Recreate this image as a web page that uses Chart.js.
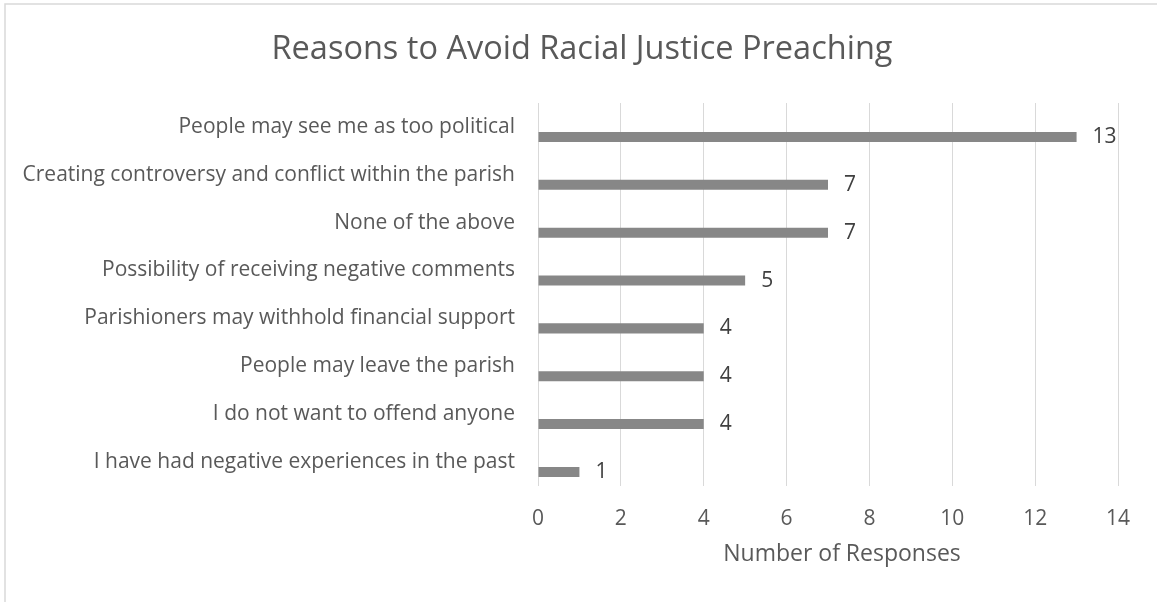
<!DOCTYPE html>
<html>
<head>
<meta charset="utf-8">
<script src="https://cdn.jsdelivr.net/npm/chart.js@4/dist/chart.umd.min.js"></script>
<style>
  html, body { margin: 0; padding: 0; background: #fff; }
  #wrap { width: 1157px; height: 602px; }
</style>
</head>
<body>
<div id="wrap"><canvas id="chart" width="1157" height="602"></canvas></div>
<script>
// chart data, top row first
const categories = [
    'People may see me as too political',
    'Creating controversy and conflict within the parish',
    'None of the above',
    'Possibility of receiving negative comments',
    'Parishioners may withhold financial support',
    'People may leave the parish',
    'I do not want to offend anyone',
    'I have had negative experiences in the past'
];
const responses = [13, 7, 7, 5, 4, 4, 4, 1];
const xTicks = [0, 2, 4, 6, 8, 10, 12, 14];

const chartTitle = 'Reasons to Avoid Racial Justice Preaching';
const xAxisTitle = 'Number of Responses';

const FONT = '"Open Sans", "Noto Sans", sans-serif';

// frame, titles and value labels
const decorPlugin = {
    id: 'decor',
    beforeDraw: function (chart) {
        const ctx = chart.ctx;
        ctx.save();
        ctx.fillStyle = '#ffffff';
        ctx.fillRect(0, 0, chart.width, chart.height);
        ctx.strokeStyle = '#d9d9d9';
        ctx.lineWidth = 1.5;
        ctx.strokeRect(5, 4, 1300, 800);
        ctx.restore();
    },
    afterDatasetsDraw: function (chart) {
        const ctx = chart.ctx;
        const meta = chart.getDatasetMeta(1);
        ctx.save();
        ctx.font = '21px ' + FONT;
        ctx.fillStyle = '#404040';
        ctx.textAlign = 'left';
        ctx.textBaseline = 'middle';
        meta.data.forEach(function (bar, i) {
            ctx.fillText(String(responses[i]), bar.x + 16, bar.y);
        });
        ctx.restore();
    },
    afterDraw: function (chart) {
        const ctx = chart.ctx;
        ctx.save();
        ctx.fillStyle = '#595959';
        ctx.textAlign = 'center';
        ctx.textBaseline = 'alphabetic';
        ctx.font = '32.5px ' + FONT;
        ctx.fillText(chartTitle, 582, 59);
        ctx.font = '23px ' + FONT;
        ctx.fillText(xAxisTitle, 842, 561);
        ctx.restore();
    }
};

const ctx = document.getElementById('chart').getContext('2d');
new Chart(ctx, {
    type: 'bar',
    data: {
        labels: categories,
        datasets: [
            {
                // empty series, keeps the bars in the lower half of each row
                label: '',
                data: responses.map(() => null),
                backgroundColor: 'rgba(0,0,0,0)'
            },
            {
                label: 'Responses',
                data: responses,
                backgroundColor: '#878787'
            }
        ]
    },
    options: {
        indexAxis: 'y',
        responsive: false,
        animation: false,
        datasets: {
            bar: { categoryPercentage: 0.84, barPercentage: 0.5 }
        },
        layout: {
            padding: { top: 103, right: 39, bottom: 49, left: 0 }
        },
        plugins: {
            legend: { display: false },
            title: { display: false },
            tooltip: { enabled: false }
        },
        scales: {
            x: {
                min: 0,
                max: 14,
                afterBuildTicks: function (scale) {
                    scale.ticks = xTicks.map(v => ({ value: v }));
                },
                grid: { color: '#d9d9d9', lineWidth: 1, drawTicks: false },
                border: { display: false },
                ticks: {
                    padding: 21,
                    color: '#595959',
                    font: { family: FONT, size: 21 },
                    maxRotation: 0
                }
            },
            y: {
                grid: { display: false, drawTicks: false },
                border: { display: false },
                afterFit: function (scale) {
                    scale.width = 538;
                },
                ticks: {
                    padding: 23,
                    color: '#595959',
                    font: { family: FONT, size: 21 },
                    autoSkip: false
                }
            }
        }
    },
    plugins: [decorPlugin]
});
</script>
</body>
</html>
